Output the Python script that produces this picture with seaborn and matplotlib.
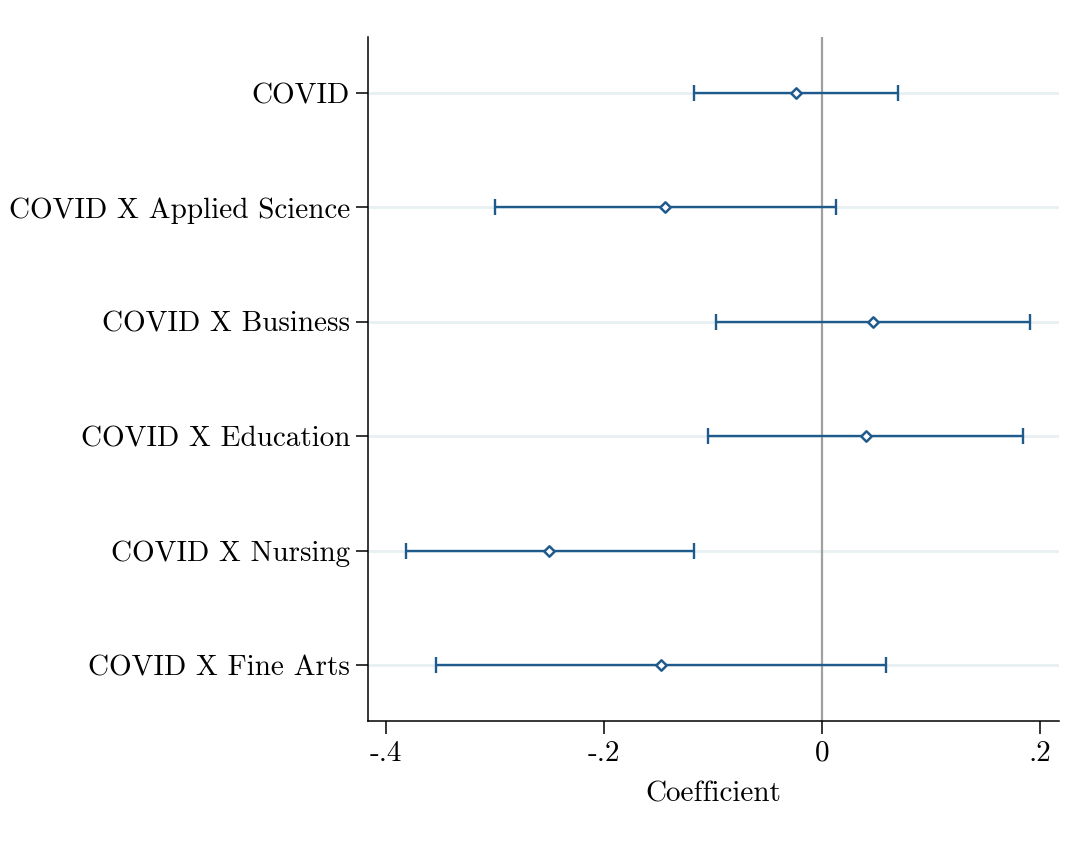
import numpy as np
import pandas as pd
import matplotlib
matplotlib.use("Agg")
import matplotlib.pyplot as plt
import seaborn as sns

# Coefficient estimates with 95% confidence bounds
terms = ["COVID", "COVID X Applied Science", "COVID X Business",
         "COVID X Education", "COVID X Nursing", "COVID X Fine Arts"]
coef = [-0.024, -0.144, 0.047, 0.040, -0.250, -0.148]
ci_low = [-0.117, -0.300, -0.097, -0.105, -0.382, -0.354]
ci_high = [0.070, 0.013, 0.191, 0.184, -0.117, 0.059]
xticks = [-0.4, -0.2, 0.0, 0.2]
xtick_labels = ["-.4", "-.2", "0", ".2"]

sns.set_theme(style="white")
plt.rcParams["font.family"] = ["cmr10", "DejaVu Serif"]
plt.rcParams["axes.unicode_minus"] = False

df = pd.DataFrame({"term": terms, "coef": coef, "lo": ci_low, "hi": ci_high})
df["pos"] = np.arange(1, len(df) + 1)

navy = "#1f5a8d"

fig = plt.figure(figsize=(10.82, 8.44), dpi=100)
ax = fig.add_axes([0.3401, 0.1457, 0.6386, 0.8105])

# light horizontal guide at each term
for p in df["pos"]:
    ax.axhline(p, color="#e8f0f1", lw=2.0, zorder=0)

# reference line at zero
ax.axvline(0, color="#a0a0a0", lw=1.6, zorder=1)

# confidence intervals
ax.errorbar(df["coef"], df["pos"],
            xerr=[df["coef"] - df["lo"], df["hi"] - df["coef"]],
            fmt="none", ecolor=navy, elinewidth=1.7, capsize=6, capthick=1.7,
            zorder=2)

# point estimates
sns.scatterplot(data=df, x="coef", y="pos", marker="D", s=28,
                facecolor="white", edgecolor=navy, linewidth=1.8,
                ax=ax, zorder=3, legend=False)

ax.set_xlim(-0.4165, 0.2174)
ax.set_ylim(6.49, 0.51)
ax.set_yticks(df["pos"])
ax.set_yticklabels(df["term"])
ax.set_xticks(xticks)
ax.set_xticklabels(xtick_labels)
ax.set_xlabel("Coefficient", fontsize=21, labelpad=10, color="black")
ax.set_ylabel("")

for side in ["top", "right"]:
    ax.spines[side].set_visible(False)
for side in ["left", "bottom"]:
    ax.spines[side].set_color("black")
    ax.spines[side].set_linewidth(1.1)

ax.tick_params(axis="both", which="major", direction="out", length=9,
               width=1.1, color="black", labelsize=21, labelcolor="black",
               left=True, bottom=True)
ax.tick_params(axis="y", pad=4)
ax.tick_params(axis="x", pad=5)

fig.savefig("out.png", dpi=100, facecolor="white")
